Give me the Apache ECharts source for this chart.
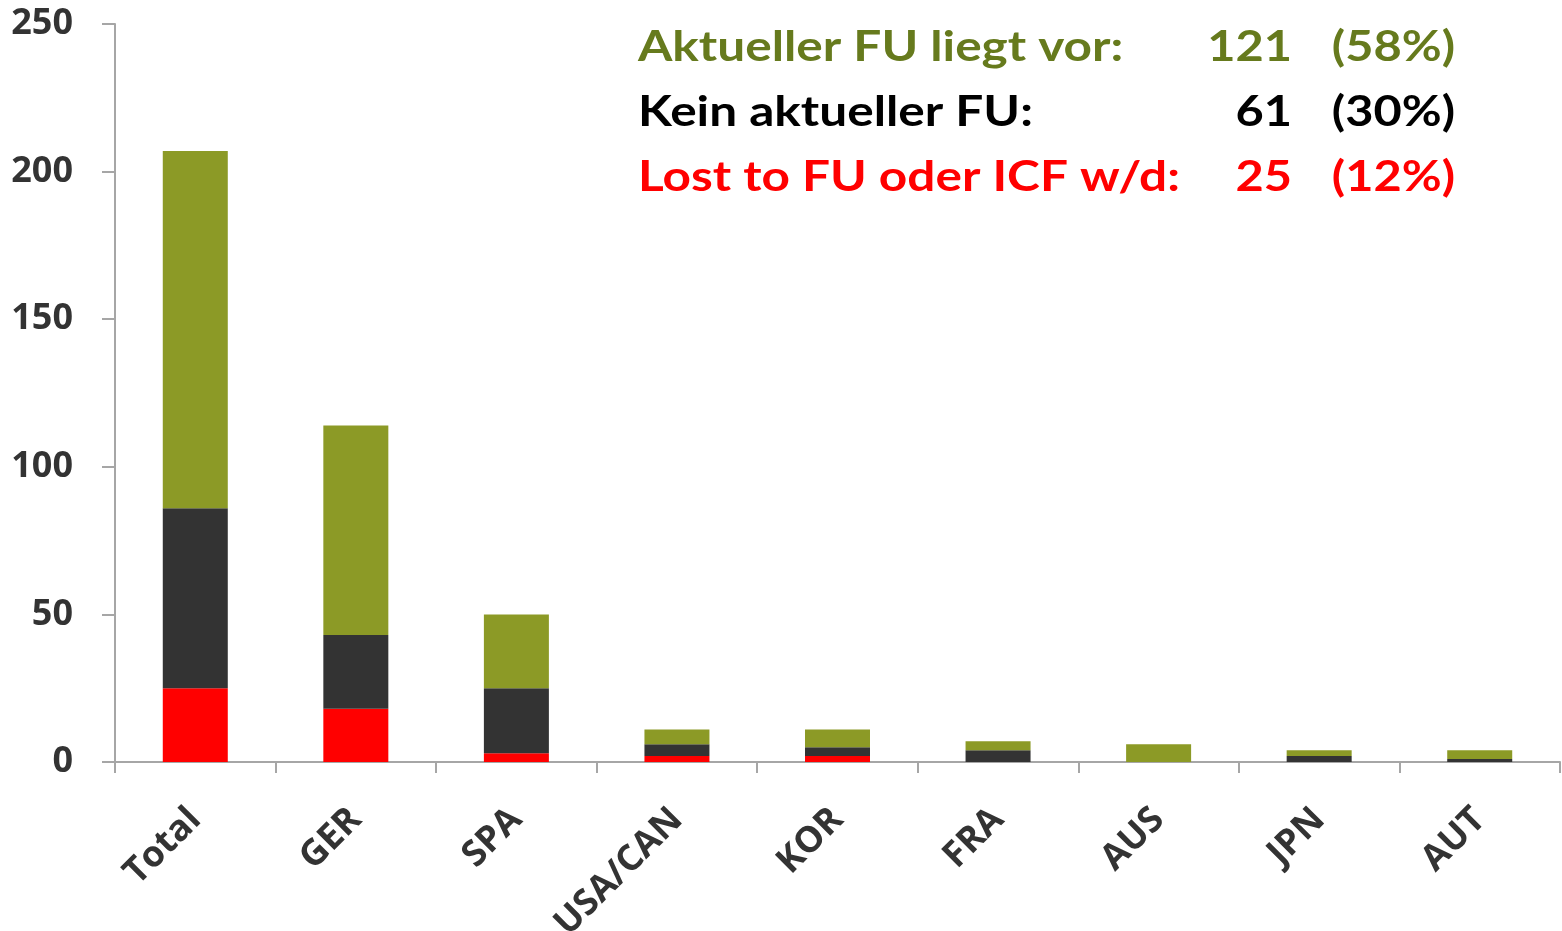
<!DOCTYPE html>
<html>
<head>
<meta charset="utf-8">
<script src="https://cdn.jsdelivr.net/npm/echarts@6/dist/echarts.min.js"></script>
<style>
  html, body { margin: 0; padding: 0; background: #fff; }
  #chart { width: 1562px; height: 931px; }
</style>
</head>
<body>
<div id="chart"></div>
<script>
const categories = ['Total', 'GER', 'SPA', 'USA/CAN', 'KOR', 'FRA', 'AUS', 'JPN', 'AUT']
const lostValues = [25, 18, 3, 2, 2, 0, 0, 0, 0]
const keinValues = [61, 25, 22, 4, 3, 4, 0, 2, 1]
const aktuellValues = [121, 71, 25, 5, 6, 3, 6, 2, 3]
const yTicks = [0, 50, 100, 150, 200, 250]

const legendRows = [
  { label: 'Aktueller FU liegt vor:', n: '121', pct: '(58%)', color: '#667a1d' },
  { label: 'Kein aktueller FU:', n: '61', pct: '(30%)', color: '#000000' },
  { label: 'Lost to FU oder ICF w/d:', n: '25', pct: '(12%)', color: '#ff0000' }
]

// 图例文字（右上角三行）
let graphic = []
legendRows.forEach((r, i) => {
  let y = 47 + i * 65
  let base = { fill: r.color, fontFamily: 'Lato', fontWeight: 'bold', fontSize: 42, verticalAlign: 'middle' }
  graphic.push({ type: 'text', x: 638, y: y, scaleX: 1.18, style: Object.assign({ text: r.label, align: 'left' }, base) })
  graphic.push({ type: 'text', x: 1292, y: y, scaleX: 1.16, style: Object.assign({ text: r.n, align: 'right' }, base) })
  graphic.push({ type: 'text', x: 1455, y: y, scaleX: 1.16, style: Object.assign({ text: r.pct, align: 'right' }, base) })
})

const option = {
  animation: false,
  grid: { left: 115, right: 2, top: 24, bottom: 169, containLabel: false, outerBoundsMode: 'none' },
  xAxis: {
    type: 'category',
    data: categories,
    axisLine: { lineStyle: { color: '#a6a6a6', width: 2 } },
    axisTick: { show: true, length: 11, lineStyle: { color: '#a6a6a6', width: 2 } },
    axisLabel: {
      rotate: 45, margin: 52, interval: 0,
      color: '#333333', fontFamily: 'Open Sans', fontWeight: 'bold', fontSize: 36
    }
  },
  yAxis: {
    type: 'value',
    min: 0, max: 250, interval: 50,
    splitLine: { show: false },
    axisLine: { show: true, lineStyle: { color: '#a6a6a6', width: 2 } },
    axisTick: { show: true, length: 13, lineStyle: { color: '#a6a6a6', width: 2 } },
    axisLabel: {
      margin: 42,
      color: '#333333', fontFamily: 'Open Sans', fontWeight: 'bold', fontSize: 36,
      formatter: v => yTicks.includes(v) ? String(v) : ''
    }
  },
  series: [
    { name: 'Lost', type: 'bar', stack: 'a', data: lostValues, barWidth: 65, itemStyle: { color: '#ff0000' } },
    { name: 'Kein', type: 'bar', stack: 'a', data: keinValues, barWidth: 65, itemStyle: { color: '#333333' } },
    { name: 'Aktuell', type: 'bar', stack: 'a', data: aktuellValues, barWidth: 65, itemStyle: { color: '#8c9a26' } }
  ],
  graphic: graphic
}

let chart = echarts.init(document.getElementById('chart'))
chart.setOption(option)
</script>
</body>
</html>
